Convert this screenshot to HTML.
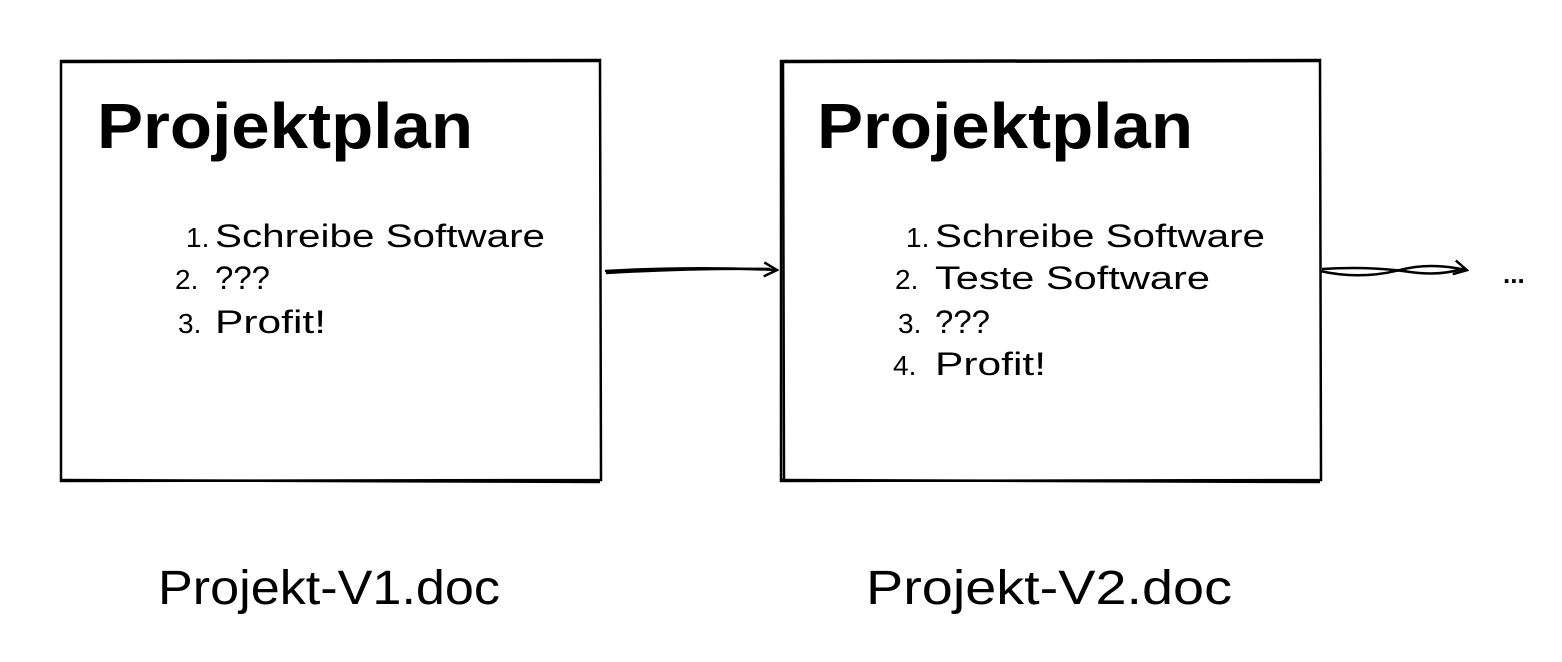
<!DOCTYPE html>
<html><head><meta charset="utf-8"><style>
html,body{margin:0;padding:0;background:#fff;}
svg{display:block;}
text{font-family:"Liberation Sans",sans-serif;fill:#000;}
</style></head><body>
<svg width="1562" height="662" viewBox="0 0 1562 662" xmlns="http://www.w3.org/2000/svg">
<defs><marker id="ah" markerWidth="16" markerHeight="16" refX="13" refY="8" orient="auto" markerUnits="userSpaceOnUse"><path d="M1,1 L14,8 L1,15" fill="none" stroke="#000" stroke-width="2.5"/></marker></defs>
<g fill="none" stroke="#000" stroke-width="2.5">
<path d="M61,61 L600,60 L601,480 L61,481 Z"/>
<path d="M62,62 L599,61 M60,480 L600,482"/>
<path d="M781,61 L1320,60 L1321,480 L781,481 Z"/>
<path d="M782,62 L1319,61 M780,480 L1320,482 M783,62 L784,480"/>
<path d="M605,271 Q690,266 776,270" marker-end="url(#ah)"/>
<path d="M606,273 Q690,268 770,269"/>
<path d="M1320,271 Q1360,280 1400,270 Q1430,262 1466,270" marker-end="url(#ah)"/>
<path d="M1322,269 Q1370,266 1410,272 Q1440,276 1462,269"/>
</g>
<text x="97" y="148" font-size="64" font-weight="bold" textLength="376" lengthAdjust="spacingAndGlyphs">Projektplan</text>
<text x="817" y="148" font-size="64" font-weight="bold" textLength="376" lengthAdjust="spacingAndGlyphs">Projektplan</text>
<g font-size="32">
<text x="186" y="247" font-size="28">1.</text><text x="215" y="247" textLength="330" lengthAdjust="spacingAndGlyphs">Schreibe Software</text>
<text x="175" y="289" font-size="28">2.</text><text x="215" y="289" textLength="55" lengthAdjust="spacingAndGlyphs">???</text>
<text x="178" y="333" font-size="28">3.</text><text x="215" y="333" textLength="111" lengthAdjust="spacingAndGlyphs">Profit!</text>
<text x="906" y="247" font-size="28">1.</text><text x="935" y="247" textLength="330" lengthAdjust="spacingAndGlyphs">Schreibe Software</text>
<text x="895" y="289" font-size="28">2.</text><text x="935" y="289" textLength="275" lengthAdjust="spacingAndGlyphs">Teste Software</text>
<text x="898" y="333" font-size="28">3.</text><text x="935" y="333" textLength="55" lengthAdjust="spacingAndGlyphs">???</text>
<text x="893" y="375" font-size="28">4.</text><text x="935" y="375" textLength="111" lengthAdjust="spacingAndGlyphs">Profit!</text>
</g>
<text x="1503" y="283" font-size="26" font-weight="bold">...</text>
<text x="158" y="604" font-size="48" textLength="342" lengthAdjust="spacingAndGlyphs">Projekt-V1.doc</text>
<text x="866" y="604" font-size="48" textLength="366" lengthAdjust="spacingAndGlyphs">Projekt-V2.doc</text>
</svg>
</body></html>
